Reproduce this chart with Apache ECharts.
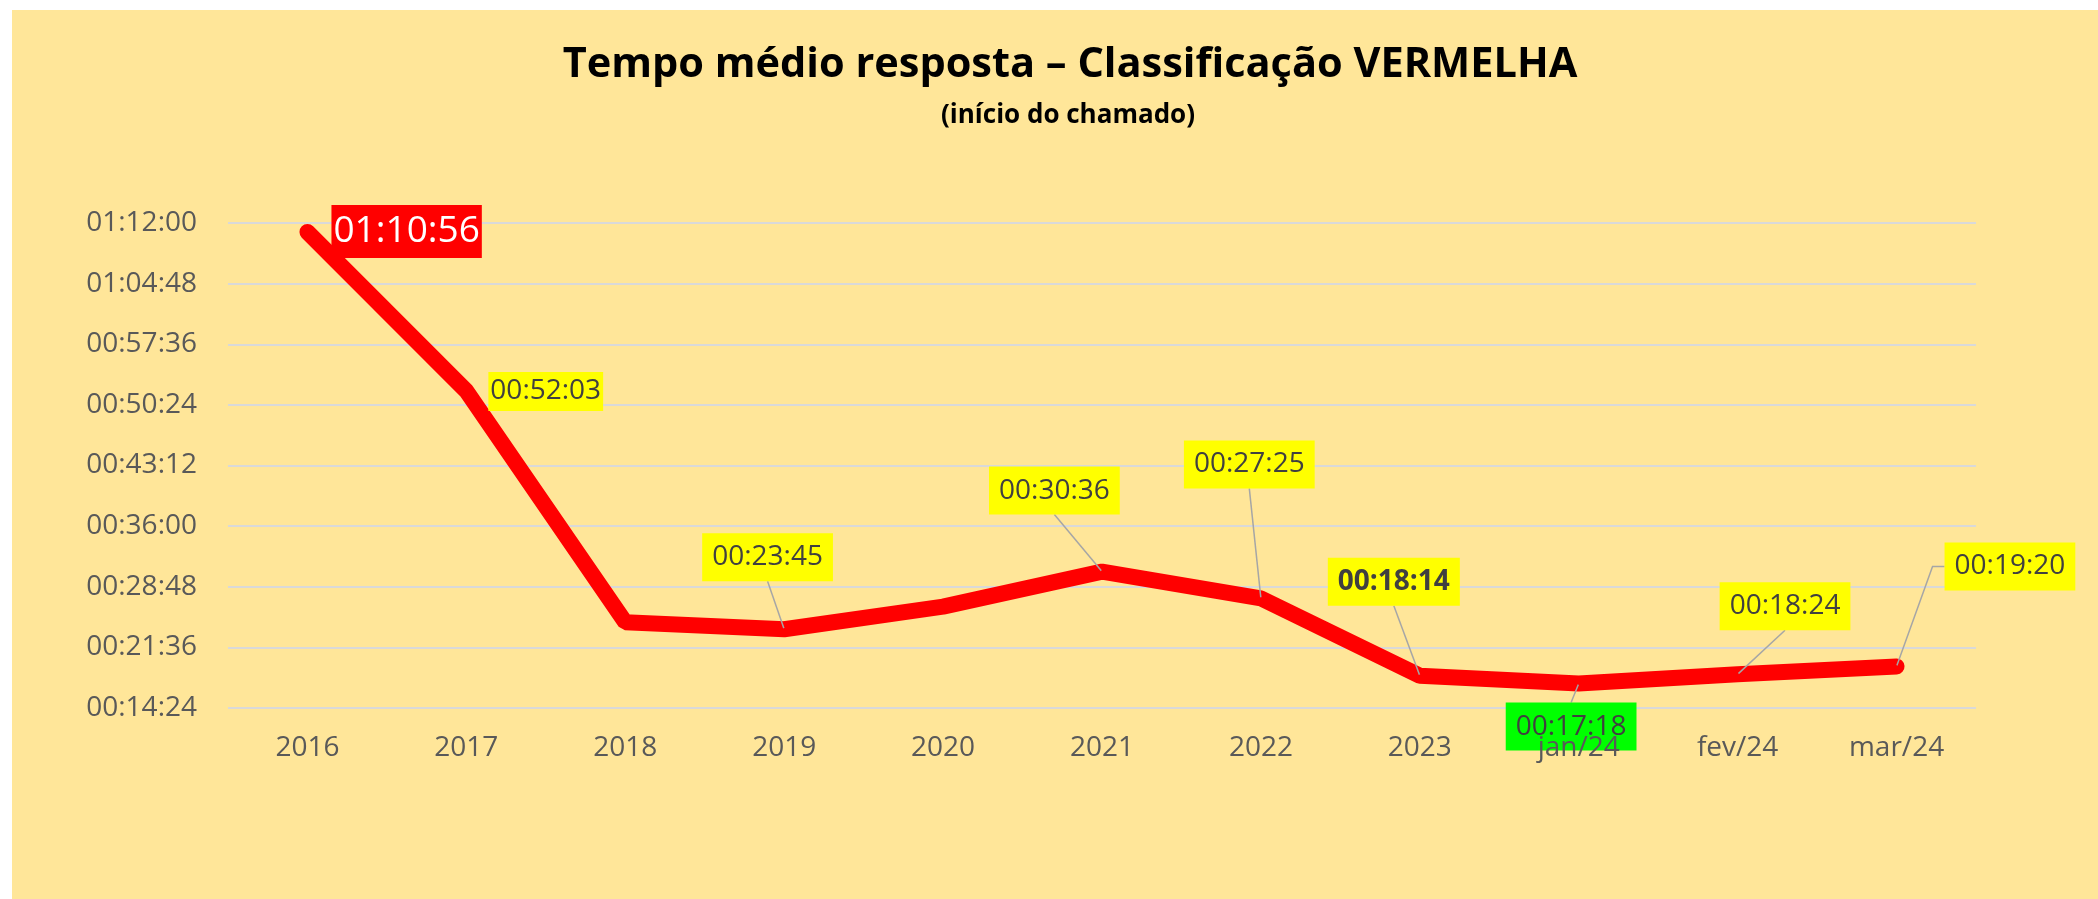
<!DOCTYPE html>
<html>
<head>
<meta charset="utf-8">
<title>Tempo médio resposta</title>
<script src="https://cdn.jsdelivr.net/npm/echarts@6/dist/echarts.min.js"></script>
<style>
  html, body { margin: 0; padding: 0; background: #fff; }
  #chart { position: absolute; left: 12px; top: 10px; width: 2086px; height: 889px; }
</style>
</head>
<body>
<div id="chart"></div>
<script>
// dados
var categorias = ['2016', '2017', '2018', '2019', '2020', '2021', '2022', '2023', 'jan/24', 'fev/24', 'mar/24'];
var tempos = ['01:10:56', '00:52:03', '00:24:35', '00:23:45', '00:26:26', '00:30:36', '00:27:25', '00:18:14', '00:17:18', '00:18:24', '00:19:20'];
var mostraRotulo = [true, true, false, true, false, true, true, true, true, true, true];
var eixoMin = '00:14:24';
var eixoMax = '01:12:00';
var eixoPasso = '00:07:12';

// deslocamento do canto superior esquerdo de cada rótulo em relação ao ponto (layout)
var deslocamentos = [[24, -27], [22, -19], [0, 0], [-82, -96], [0, 0], [-113, -105], [-77, -158], [-92, -118], [-73, 19], [-18, -92], [48, -124]];

function paraSegundos(t) {
  var p = t.split(':');
  return (+p[0]) * 3600 + (+p[1]) * 60 + (+p[2]);
}
function paraTexto(s) {
  s = Math.round(s);
  var h = Math.floor(s / 3600), m = Math.floor((s % 3600) / 60), sec = s % 60;
  var pad = function (n) { return (n < 10 ? '0' : '') + n; };
  return pad(h) + ':' + pad(m) + ':' + pad(sec);
}

var fonte = '"Open Sans", "Noto Sans", sans-serif';

var dados = tempos.map(function (t, i) {
  var item = { value: paraSegundos(t) };
  var lbl = {
    show: mostraRotulo[i],
    position: 'inside',
    align: 'left',
    verticalAlign: 'top',
    offset: deslocamentos[i],
    formatter: t,
    fontFamily: fonte,
    fontSize: 28,
    color: '#404040',
    backgroundColor: '#FFFF00',
    padding: [6, 10],
    lineHeight: 36
  };
  var linha = { show: mostraRotulo[i], length2: 0, lineStyle: { color: '#A6A6A6', width: 1.5 } };
  if (i === 0) {
    lbl.fontSize = 37; lbl.color = '#fff'; lbl.backgroundColor = '#FF0000';
    lbl.padding = [2, 2]; lbl.lineHeight = 49;
    linha.show = false;
  }
  if (i === 1) {
    lbl.padding = [1, 2]; lbl.lineHeight = 37;
    linha.show = false;
  }
  if (i === 7) lbl.fontWeight = 'bold';
  if (i === 8) lbl.backgroundColor = '#00FF00';
  if (i === 10) linha.length2 = 12;
  item.label = lbl;
  item.labelLine = linha;
  return item;
});

var myChart = echarts.init(document.getElementById('chart'));
var option = {
  backgroundColor: '#FFE699',
  animation: false,
  title: [
    {
      text: 'Tempo médio resposta – Classificação VERMELHA',
      left: 1053,
      top: 29,
      textAlign: 'center',
      textStyle: { fontFamily: fonte, fontSize: 41.5, fontWeight: 'bold', color: '#000' }
    },
    {
      text: '(início do chamado)',
      left: 1051,
      top: 88,
      textAlign: 'center',
      textStyle: { fontFamily: fonte, fontSize: 26, fontWeight: 'bold', color: '#000' }
    }
  ],
  grid: { left: 216, right: 122, top: 213, bottom: 191 },
  xAxis: {
    type: 'category',
    data: categorias,
    z: 5,
    axisLine: { show: false },
    axisTick: { show: false },
    axisLabel: { fontFamily: fonte, fontSize: 28, color: '#595959', margin: 26 }
  },
  yAxis: {
    type: 'value',
    min: paraSegundos(eixoMin),
    max: paraSegundos(eixoMax),
    interval: paraSegundos(eixoPasso),
    axisLine: { show: false },
    axisTick: { show: false },
    splitLine: { lineStyle: { color: '#D9D9D9', width: 2 } },
    axisLabel: {
      fontFamily: fonte, fontSize: 28, color: '#595959', margin: 31,
      formatter: function (v) { return paraTexto(v); }
    }
  },
  series: [
    {
      type: 'line',
      data: dados,
      symbol: 'circle',
      symbolSize: 2,
      showSymbol: true,
      itemStyle: { color: '#FF0000' },
      lineStyle: { color: '#FF0000', width: 16, cap: 'round' }
    }
  ]
};
myChart.setOption(option);
</script>
</body>
</html>
